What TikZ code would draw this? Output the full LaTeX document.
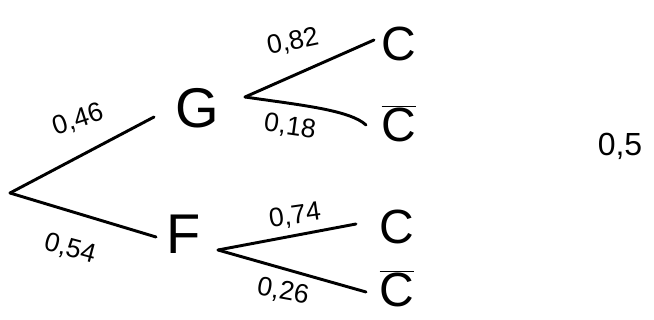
\documentclass[tikz,border=0pt]{standalone}
\usepackage{fontspec}
\setmainfont{Liberation Sans}
\begin{document}
\begin{tikzpicture}[x=0.75pt,y=-0.75pt,
  br/.style={line width=2.2pt,line cap=round},
  big/.style={font=\fontsize{42}{44}\selectfont,inner sep=0pt},
  leaf/.style={font=\fontsize{36}{38}\selectfont,inner sep=0pt},
  lab/.style={font=\fontsize{20}{22}\selectfont,inner sep=0pt}]
\useasboundingbox (0,0) rectangle (654,320);
% first level
\coordinate (r) at (10,193);
\coordinate (g0) at (154,117);
\coordinate (f0) at (156,237);
\node[big] (G) at (197,108) {G};
\node[big] (F) at (184,234) {F};
\draw[br] (r) -- (g0);
\draw[br] (r) -- (f0);
\node[lab,rotate=18] (l46) at (78,120) {0,46};
\node[lab,rotate=-15] (l54) at (70,249) {0,54};
% G subtree
\coordinate (gs) at (245,97);
\coordinate (gc) at (374,40);
\coordinate (gcb) at (366,125);
\node[leaf] (C1) at (399,44) {C};
\node[leaf] (C1b) at (399,124) {$\overline{\mbox{C}}$};
\draw[br] (gs) -- (gc);
\draw[br] (gs) .. controls (300,105) and (350,110) .. (gcb);
\node[lab,rotate=12] (l82) at (293,42) {0,82};
\node[lab,rotate=-8] (l18) at (290,127) {0,18};
% F subtree
\coordinate (fs) at (218,250);
\coordinate (fc) at (356,224);
\coordinate (fcb) at (366,292);
\node[leaf] (C2) at (397,227) {C};
\node[leaf] (C2b) at (397,289) {$\overline{\mbox{C}}$};
\draw[br] (fs) -- (fc);
\draw[br] (fs) -- (fcb);
\node[lab,rotate=8] (l74) at (295,216) {0,74};
\node[lab,rotate=-10] (l26) at (283,292) {0,26};
\node[lab,font=\fontsize{24}{26}\selectfont] (p5) at (620,146) {0,5};
\end{tikzpicture}
\end{document}
